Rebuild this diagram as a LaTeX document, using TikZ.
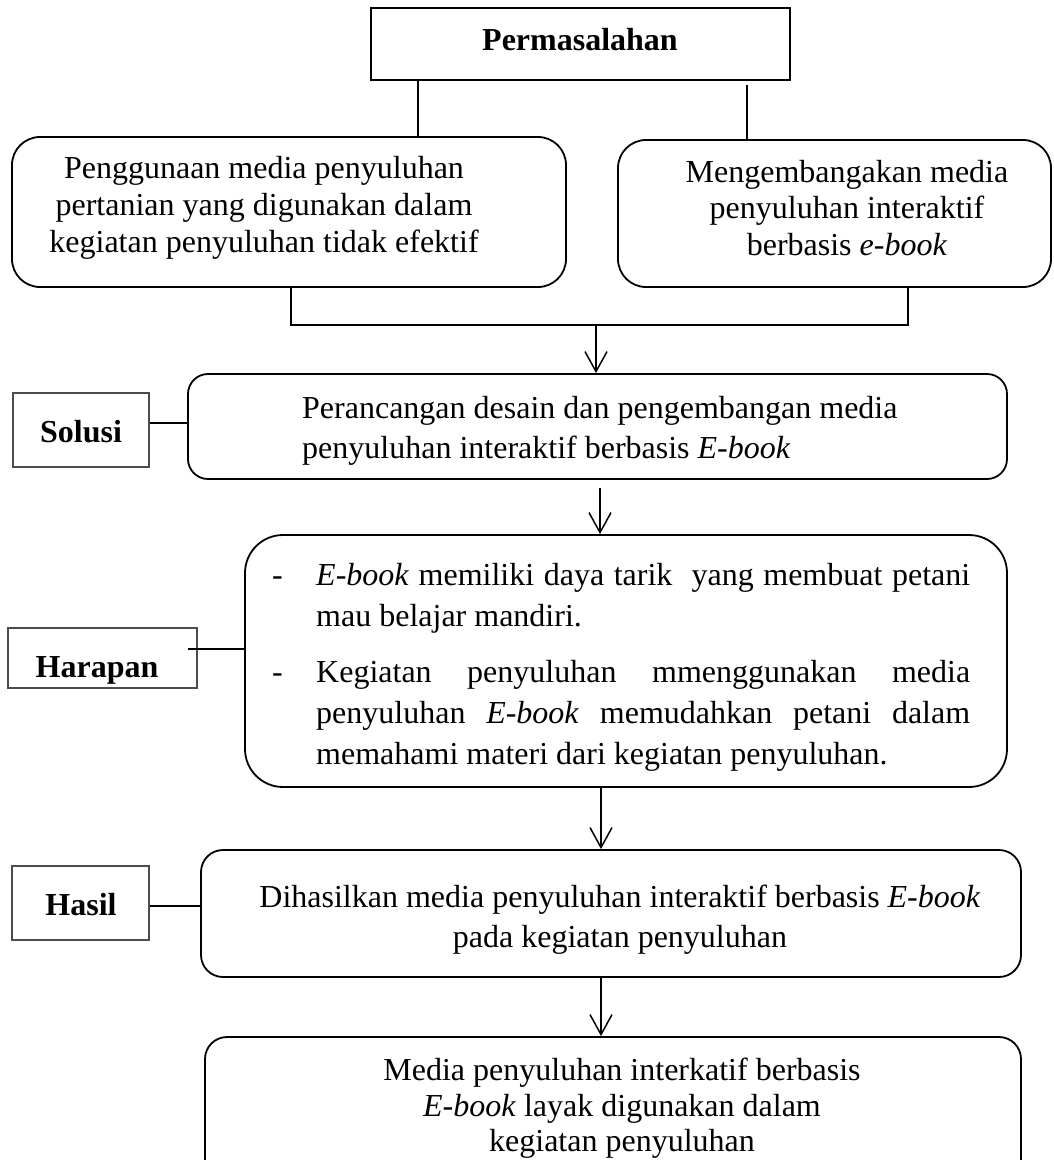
\documentclass[tikz,border=0pt]{standalone}
\usepackage{fontspec}
\setmainfont{Liberation Serif}
\usetikzlibrary{arrows.meta}
\begin{document}
\begin{tikzpicture}[x=1pt,y=-1pt,
  every node/.style={font=\fontsize{32}{37}\selectfont, inner sep=0pt, text=black},
  mainbox/.style={draw=black, line width=1.8pt, rounded corners=#1},
  plainbox/.style={draw=black, line width=1.8pt},
  labelbox/.style={draw=black!70, line width=1.2pt},
  conn/.style={line width=1.5pt, draw=black},
  flowarrow/.style={conn, -{Straight Barb[length=20pt,width=22pt,line width=1.5pt]}}
]
\useasboundingbox (0,0) rectangle (1053,1160);
\clip (0,0) rectangle (1053,1160);

% boxes
\node[plainbox, minimum width=419pt, minimum height=72pt] (perm) at (580.5,44) {};
\node[mainbox=28pt, minimum width=554pt, minimum height=150pt] (b2) at (289,212) {};
\node[mainbox=28pt, minimum width=433pt, minimum height=147pt] (b3) at (834.5,213.5) {};
\node[mainbox=20pt, minimum width=819pt, minimum height=105pt] (b4) at (597.5,426.5) {};
\node[mainbox=38pt, minimum width=762pt, minimum height=252pt] (b5) at (626,661) {};
\node[mainbox=22pt, minimum width=820pt, minimum height=127pt] (b6) at (611,913.5) {};
\node[mainbox=22pt, minimum width=816pt, minimum height=148pt] (b7) at (613,1111) {};
\node[labelbox, minimum width=136pt, minimum height=74pt] (solusi) at (81,430) {};
\node[labelbox, minimum width=189pt, minimum height=60pt] (harapan) at (102.5,658) {};
\node[labelbox, minimum width=137pt, minimum height=74pt] (hasil) at (80.5,903) {};

% texts
\node[anchor=base, font=\fontsize{32}{37}\selectfont\bfseries] (tperm) at (580,50) {Permasalahan};

\node[anchor=base] (t2a) at (264,178) {Penggunaan media penyuluhan};
\node[anchor=base] (t2b) at (264,215) {pertanian yang digunakan dalam};
\node[anchor=base] (t2c) at (264,252) {kegiatan penyuluhan tidak efektif};

\node[anchor=base] (t3a) at (847,182) {Mengembangakan media};
\node[anchor=base] (t3b) at (847,218) {penyuluhan interaktif};
\node[anchor=base] (t3c) at (847,255) {berbasis \textit{e-book}};

\node[anchor=base west] (t4a) at (302,418) {Perancangan desain dan pengembangan media};
\node[anchor=base west] (t4b) at (302,458) {penyuluhan interaktif berbasis \textit{E-book}};

\node[anchor=base west] (d5a) at (272,585) {-};
\node[anchor=base west] (t5a) at (316,585) {\makebox[654pt][s]{\textit{E-book} memiliki daya tarik\ \ yang membuat petani}};
\node[anchor=base west] (t5b) at (316,626) {mau belajar mandiri.};
\node[anchor=base west] (d5b) at (272,682) {-};
\node[anchor=base west] (t5c) at (316,682) {\makebox[654pt][s]{Kegiatan penyuluhan mmenggunakan media}};
\node[anchor=base west] (t5d) at (316,723) {\makebox[654pt][s]{penyuluhan \textit{E-book} memudahkan petani dalam}};
\node[anchor=base west] (t5e) at (316,764) {memahami materi dari kegiatan penyuluhan.};

\node[anchor=base] (t6a) at (620,907) {Dihasilkan media penyuluhan interaktif berbasis \textit{E-book}};
\node[anchor=base] (t6b) at (620,947) {pada kegiatan penyuluhan};

\node[anchor=base] (t7a) at (622,1080) {Media penyuluhan interkatif berbasis};
\node[anchor=base] (t7b) at (622,1116) {\textit{E-book} layak digunakan dalam};
\node[anchor=base] (t7c) at (622,1151) {kegiatan penyuluhan};

\node[anchor=base, font=\fontsize{32}{37}\selectfont\bfseries] (tsol) at (81,442) {Solusi};
\node[anchor=base, font=\fontsize{32}{37}\selectfont\bfseries] (thar) at (97,677) {Harapan};
\node[anchor=base, font=\fontsize{32}{37}\selectfont\bfseries] (thas) at (81,915) {Hasil};

% connector coordinates
\coordinate (c1) at (418,0);
\coordinate (r1) at (747,85);
\coordinate (m1) at (291,325);
\coordinate (m2) at (908,325);
\coordinate (m3) at (596,325);
\coordinate (a2) at (600,488);
\coordinate (a3) at (601,0);
\coordinate (s1) at (0,423);
\coordinate (h1) at (188,649);
\coordinate (k1) at (0,906);

% connectors
\draw[conn] (perm.south -| c1) -- (b2.north -| c1);
\draw[conn] (r1) -- (r1 |- b3.north);
\draw[conn] (m1 |- b2.south) -- (m1) -- (m2) -- (m2 |- b3.south);
\draw[flowarrow] (m3) -- (m3 |- b4.north);
\draw[flowarrow] (a2) -- (a2 |- b5.north);
\draw[flowarrow] (b5.south -| a3) -- (b6.north -| a3);
\draw[flowarrow] (b6.south -| a3) -- (b7.north -| a3);
\draw[conn] (solusi.east |- s1) -- (b4.west |- s1);
\draw[conn] (h1) -- (b5.west |- h1);
\draw[conn] (hasil.east |- k1) -- (b6.west |- k1);
\end{tikzpicture}
\end{document}
